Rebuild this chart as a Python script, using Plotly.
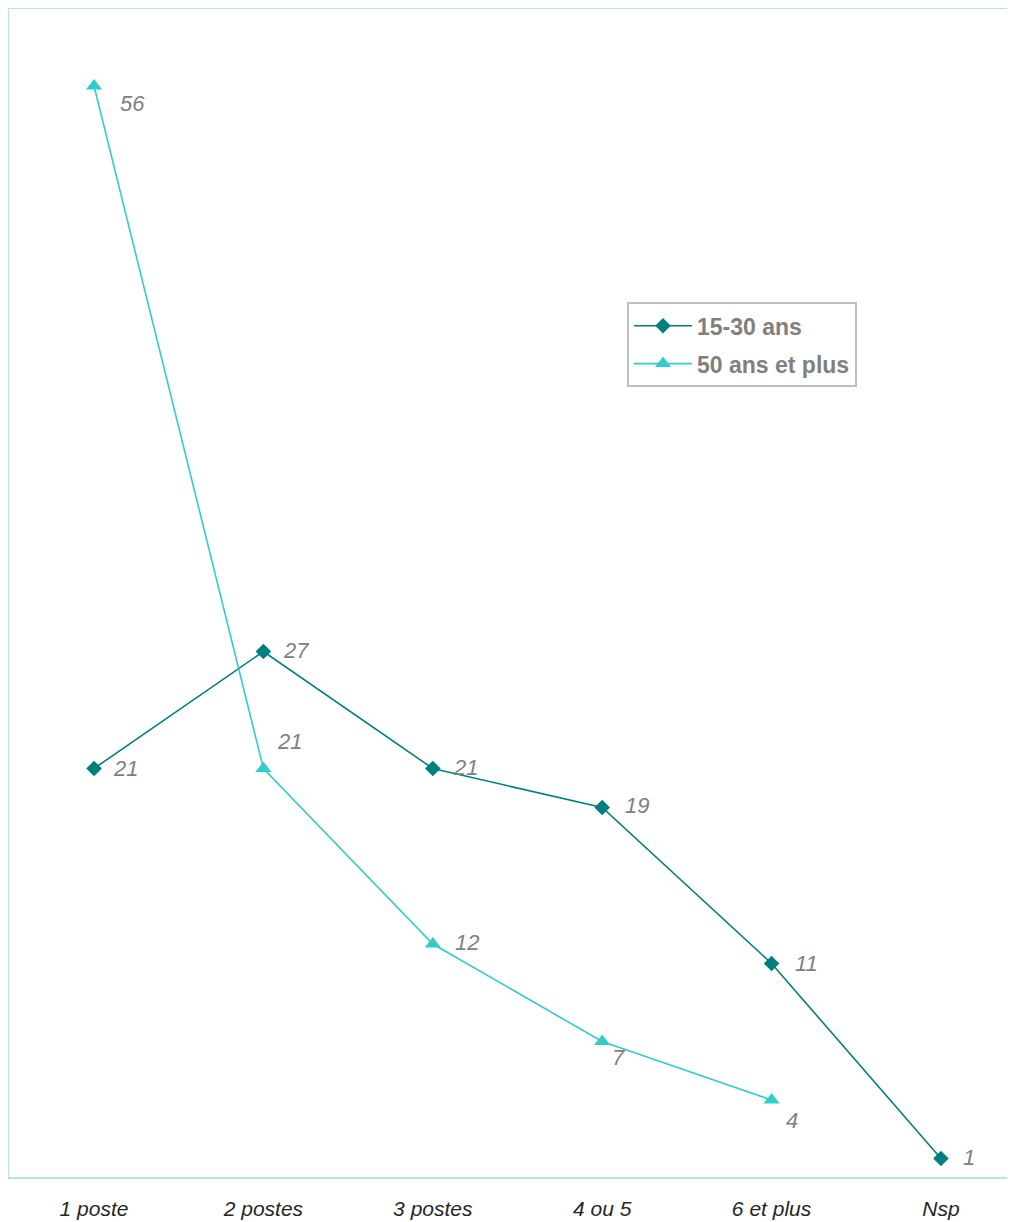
import plotly.graph_objects as go

categories = ["1 poste", "2 postes", "3 postes", "4 ou 5", "6 et plus", "Nsp"]
young = [21, 27, 21, 19, 11, 1]          # 15-30 ans
senior = [56, 21, 12, 7, 4, None]         # 50 ans et plus
series_names = ["15-30 ans", "50 ans et plus"]

# label offsets in px (style only)
young_off = [(17, 0), (18, 1), (18, 1), (21, 2), (21, 0), (20, 1)]
senior_off = [(24, -17), (12, 27), (20, 2), (8, -16), (12, -20), None]

C_YOUNG = "#007f7f"
C_SENIOR = "#33cccc"
FONT = "Liberation Sans, Arial, sans-serif"
LABEL_COLOR = "#808080"

xs = list(range(len(categories)))

fig = go.Figure()
fig.add_trace(go.Scatter(
    x=xs, y=young, name=f"<b>{series_names[0]}</b>", mode="lines+markers",
    legendgroup="a",
    line=dict(color=C_YOUNG, width=1.6),
    marker=dict(symbol="diamond", size=12, color=C_YOUNG),
))
fig.add_trace(go.Scatter(
    x=xs[:5], y=senior[:5], name=f"<b>{series_names[1]}</b>", mode="lines+markers",
    legendgroup="b",
    line=dict(color=C_SENIOR, width=1.6),
    marker=dict(symbol="triangle-up", size=14, color=C_SENIOR),
))

ann = []
for i, v in enumerate(young):
    dx, dy = young_off[i]
    ann.append(dict(x=xs[i], y=v, text=f"<i>{v}</i>", showarrow=False, xanchor="left",
                    yanchor="middle", xshift=dx, yshift=dy,
                    font=dict(family=FONT, size=22, color=LABEL_COLOR)))
for i, v in enumerate(senior):
    if v is None:
        continue
    dx, dy = senior_off[i]
    ann.append(dict(x=xs[i], y=v, text=f"<i>{v}</i>", showarrow=False, xanchor="left",
                    yanchor="middle", xshift=dx, yshift=dy,
                    font=dict(family=FONT, size=22, color=LABEL_COLOR)))

BORDER = "#b9e2e5"
shapes = [
    dict(type="line", xref="paper", yref="paper", x0=0, x1=0, y0=0, y1=1, line=dict(color=BORDER, width=2)),
    dict(type="line", xref="paper", yref="paper", x0=0, x1=1, y0=1, y1=1, line=dict(color=BORDER, width=2)),
    dict(type="line", xref="paper", yref="paper", x0=0, x1=1, y0=0, y1=0, line=dict(color=BORDER, width=2)),
]

W = 999
fig.update_layout(
    width=W, height=1222,
    margin=dict(l=0, r=0, t=0, b=52, autoexpand=False),
    paper_bgcolor="white", plot_bgcolor="white",
    font=dict(family=FONT),
    annotations=ann, shapes=shapes,
    showlegend=True,
    legend=dict(x=619 / W, y=0.7485, xanchor="left", yanchor="top",
                bordercolor="#bfbfbf", borderwidth=2, bgcolor="white",
                font=dict(family=FONT, size=23, color=LABEL_COLOR),
                itemwidth=58, tracegroupgap=5),
    xaxis=dict(range=[-0.508, 5.390], tickmode="array", tickvals=xs,
               ticktext=[f"<i>{c}</i>" for c in categories],
               showgrid=False, zeroline=False, showline=False, ticks="",
               ticklabelstandoff=16,
               tickfont=dict(family=FONT, size=21, color="#262626")),
    yaxis=dict(range=[0, 60], showgrid=False, zeroline=False, showline=False,
               showticklabels=False, ticks=""),
)
fig.update_traces(cliponaxis=False)

fig.write_html(
    "out.html",
    post_script="document.documentElement.style.overflow='hidden';document.body.style.overflow='hidden';",
)
